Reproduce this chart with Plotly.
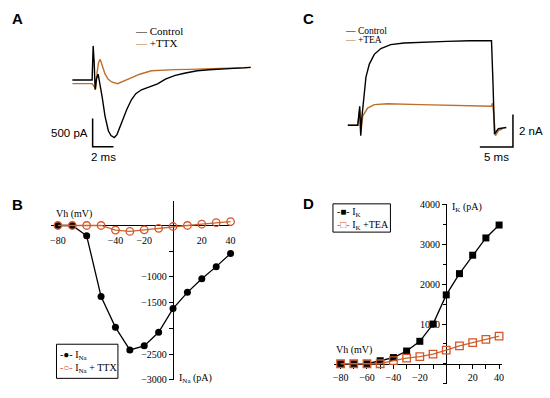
import plotly.graph_objects as go

W, H = 550, 398
SERIF = "Times New Roman, Liberation Serif, serif"
SANS = "Arial, Liberation Sans, sans-serif"
BLACK = "#000000"
ORANGE = "#bd6f28"
RED_OPEN = "#d4552a"
RED_LINE = "#c8672c"

# ---------------- Data ----------------
# Panel A: Na+ current traces (time in ms, current in pA)
a_time_ctrl = [0, 1.90, 2.00, 2.10, 2.19, 2.33, 2.48, 2.67, 2.86, 3.14, 3.46, 3.71, 4.03, 4.29,
               4.57, 4.89, 5.24, 5.69, 6.10, 6.64, 7.43, 8.19, 8.95, 9.81, 10.76, 12.0, 13.14,
               14.29, 15.52, 16.48, 17.14]
a_curr_ctrl = [0, 0, 602, 310, -172, 34, 103, -69, -292, -636, -894, -980, -1015, -963,
               -826, -688, -516, -344, -241, -172, -120, -69, 17, 77, 120, 163, 181,
               198, 206, 215, 224]
a_time_ttx = [0, 1.90, 2.05, 2.24, 2.38, 2.52, 2.67, 2.86, 3.14, 3.43, 3.78, 4.35, 4.95, 5.69,
              6.48, 7.59, 8.86, 9.81, 11.24, 12.67, 14.29, 16.0, 17.14]
a_curr_ttx = [-64, -64, -103, -155, 138, 310, 366, 275, 108, 17, -34, -64, -17, 52,
              103, 163, 181, 184, 189, 198, 198, 206, 224]

# Panel C: K+ current traces (time in ms, current in nA)
c_time_ctrl = [0, 1.50, 1.80, 1.95, 2.10, 2.25, 2.74, 3.25, 4.00, 4.99, 6.48, 8.49, 11.48,
               14.97, 18.41, 21.71, 21.93, 22.16, 22.75, 23.95]
c_curr_ctrl = [0, 0, 1.16, -0.64, 0.38, 0.96, 2.95, 3.75, 4.35, 4.71, 4.95, 5.05, 5.11,
               5.15, 5.19, 5.19, 2.65, -0.54, -0.22, -0.14]
c_time_tea = [0, 1.50, 1.80, 1.95, 2.25, 2.99, 4.00, 5.99, 10.97, 15.97, 21.71, 21.86, 22.0,
              22.31, 22.75, 23.35]
c_curr_tea = [0, 0, 0.98, -0.52, 0.56, 1.05, 1.26, 1.32, 1.26, 1.20, 1.16, 1.35, 0.86,
              -0.64, -0.34, -0.22]

# Panel B: I-V of Na+ current
vh = [-80, -70, -60, -50, -40, -30, -20, -10, 0, 10, 20, 30, 40]
i_na = [0, 0, -200, -1380, -1980, -2420, -2340, -2075, -1615, -1300, -1035, -800, -545]
i_na_ttx = [0, 0, 0, 0, -90, -115, -85, -55, -20, 0, 25, 55, 75]
b_xtick_vals = [-80, -40, -20, 20, 40]
b_ytick_vals = [-3000, -2500, -1500, -1000]

# Panel D: I-V of K+ current
i_k = [0, 0, 0, 75, 155, 320, 565, 1000, 1735, 2270, 2735, 3170, 3495]
i_k_tea = [0, 0, 0, 0, 80, 140, 180, 240, 345, 450, 530, 615, 695]
d_xtick_vals = [-80, -60, -40, -20, 20, 40]
d_ytick_vals = [1000, 2000, 3000, 4000]

# Legend labels
a_names = ["Control", "+TTX"]
c_names = ["Control", "+TEA"]
b_names = ["I<sub>Na</sub>", "I<sub>Na</sub> + TTX"]
d_names = ["I<sub>K</sub>", "I<sub>K</sub> +TEA"]

# Scale bars
a_bar_ms, a_bar_pA = 2, 500
c_bar_ms, c_bar_nA = 5, 2
a_bar_corner = (1.95, -1179)
c_bar_corner = (24.95, -1.34)

# ---------------- Layout helpers ----------------
def xdom(p0, p1):
    return [p0 / W, p1 / W]

def ydom(top, bottom):
    return [1 - bottom / H, 1 - top / H]

def cross(dom, rng, v):
    return dom[0] + (v - rng[0]) / (rng[1] - rng[0]) * (dom[1] - dom[0])

A_xd, A_yd = xdom(60, 260), ydom(30, 165)
A_xr, A_yr = [-1.143, 17.905], [-1496.4, 825.6]
C_xd, C_yd = xdom(340, 530), ydom(25, 165)
C_xr, C_yr = [-1.497, 26.95], [-2.437, 5.946]
B_xd, B_yd = xdom(50, 233), ydom(201.7, 385.5)
B_xr, B_yr = [-85.1, 40.9], [-3000, 483]
D_xd, D_yd = xdom(336, 506), ydom(205, 390)
D_xr, D_yr = [-85.0, 42.5], [-516, 4029]

fig = go.Figure()

# Panel A traces
fig.add_trace(go.Scatter(x=a_time_ttx, y=a_curr_ttx, mode="lines", name=a_names[1],
                         line=dict(color=ORANGE, width=1.4), xaxis="x", yaxis="y",
                         showlegend=False))
fig.add_trace(go.Scatter(x=a_time_ctrl, y=a_curr_ctrl, mode="lines", name=a_names[0],
                         line=dict(color=BLACK, width=1.4), xaxis="x", yaxis="y",
                         showlegend=False))
t0, i0 = a_bar_corner
fig.add_trace(go.Scatter(x=[t0, t0, t0 + a_bar_ms], y=[i0 + a_bar_pA, i0, i0], mode="lines",
                         line=dict(color=BLACK, width=1.5), xaxis="x", yaxis="y",
                         showlegend=False, hoverinfo="skip"))

# Panel C traces
fig.add_trace(go.Scatter(x=c_time_tea, y=c_curr_tea, mode="lines", name=c_names[1],
                         line=dict(color=ORANGE, width=1.4), xaxis="x2", yaxis="y2",
                         showlegend=False))
fig.add_trace(go.Scatter(x=c_time_ctrl, y=c_curr_ctrl, mode="lines", name=c_names[0],
                         line=dict(color=BLACK, width=1.4), xaxis="x2", yaxis="y2",
                         showlegend=False))
u0, j0 = c_bar_corner
fig.add_trace(go.Scatter(x=[u0 - c_bar_ms, u0, u0], y=[j0, j0, j0 + c_bar_nA], mode="lines",
                         line=dict(color=BLACK, width=1.5), xaxis="x2", yaxis="y2",
                         showlegend=False, hoverinfo="skip"))

# Panel B traces
fig.add_trace(go.Scatter(x=vh, y=i_na, mode="lines+markers", name=b_names[0],
                         line=dict(color=BLACK, width=1.3),
                         marker=dict(symbol="circle", size=7, color=BLACK),
                         xaxis="x3", yaxis="y3", showlegend=False, cliponaxis=False))
fig.add_trace(go.Scatter(x=vh, y=i_na_ttx, mode="lines+markers", name=b_names[1],
                         line=dict(color=RED_LINE, width=1.3),
                         marker=dict(symbol="circle-open", size=7.5,
                                     line=dict(color=RED_OPEN, width=1.3), color=RED_OPEN),
                         xaxis="x3", yaxis="y3", showlegend=False, cliponaxis=False))

# Panel D traces
fig.add_trace(go.Scatter(x=vh, y=i_k, mode="lines+markers", name=d_names[0],
                         line=dict(color=BLACK, width=1.3),
                         marker=dict(symbol="square", size=7, color=BLACK),
                         xaxis="x4", yaxis="y4", showlegend=False, cliponaxis=False))
fig.add_trace(go.Scatter(x=vh, y=i_k_tea, mode="lines+markers", name=d_names[1],
                         line=dict(color=RED_LINE, width=1.3),
                         marker=dict(symbol="square-open", size=7.5,
                                     line=dict(color=RED_OPEN, width=1.3), color=RED_OPEN),
                         xaxis="x4", yaxis="y4", showlegend=False, cliponaxis=False))

hidden = dict(visible=False, showgrid=False, zeroline=False)
tickfont = dict(family=SERIF, size=10, color=BLACK)
axline = dict(showline=True, linecolor=BLACK, linewidth=1.3, showgrid=False, zeroline=False,
              tickfont=tickfont, layer="below traces")

fig.update_layout(
    width=W, height=H, autosize=False,
    margin=dict(l=0, r=0, t=0, b=0),
    paper_bgcolor="white", plot_bgcolor="white",
    showlegend=False,
    xaxis=dict(domain=A_xd, range=A_xr, anchor="y", **hidden),
    yaxis=dict(domain=A_yd, range=A_yr, anchor="x", **hidden),
    xaxis2=dict(domain=C_xd, range=C_xr, anchor="y2", **hidden),
    yaxis2=dict(domain=C_yd, range=C_yr, anchor="x2", **hidden),
    xaxis3=dict(domain=B_xd, range=B_xr, anchor="free", position=cross(B_yd, B_yr, 0),
                tickmode="array", tickvals=b_xtick_vals, ticks="", ticklabelstandoff=5,
                **axline),
    yaxis3=dict(domain=B_yd, range=B_yr, anchor="free", position=cross(B_xd, B_xr, 0),
                tickmode="array", tickvals=b_ytick_vals,
                ticks="outside", ticklen=4, tickwidth=1, tickcolor=BLACK,
                minor=dict(tick0=0, dtick=500, ticks="outside", ticklen=4, tickcolor=BLACK),
                **axline),
    xaxis4=dict(domain=D_xd, range=D_xr, anchor="free", position=cross(D_yd, D_yr, 0),
                tickmode="array", tickvals=d_xtick_vals,
                ticks="outside", ticklen=4, tickwidth=1, tickcolor=BLACK,
                minor=dict(tick0=0, dtick=10, ticks="outside", ticklen=4, tickcolor=BLACK),
                **axline),
    yaxis4=dict(domain=D_yd, range=D_yr, anchor="free", position=cross(D_xd, D_xr, 0),
                tickmode="array", tickvals=d_ytick_vals,
                ticks="outside", ticklen=4, tickwidth=1, tickcolor=BLACK,
                minor=dict(tick0=0, dtick=500, ticks="outside", ticklen=3, tickcolor=BLACK),
                **axline),
)

ann = []
shapes = []

def paper_text(text, px, py, size, family, xanchor="left", color=BLACK):
    ann.append(dict(text=text, x=px / W, y=1 - py / H, xref="paper", yref="paper",
                    xanchor=xanchor, yanchor="middle", showarrow=False,
                    font=dict(family=family, size=size, color=color)))

# Panel letters
for letter, px, py in [("A", 16.7, 15), ("B", 16.7, 205.5), ("C", 310, 15), ("D", 310, 205)]:
    paper_text("<b>%s</b>" % letter, px, py, 15, SANS, xanchor="center")

# Legend-like labels for A and C (line samples)
paper_text("<span style='color:%s'>—</span> %s" % (BLACK, a_names[0]), 133, 27.5, 11, SERIF)
paper_text("<span style='color:%s'>—</span> %s" % (ORANGE, a_names[1]), 133, 39.5, 11, SERIF)
paper_text("<span style='color:%s'>—</span> %s" % (BLACK, c_names[0]), 345, 27.5, 9.5, SERIF)
paper_text("<span style='color:%s'>—</span> %s" % (ORANGE, c_names[1]), 345, 37, 9.5, SERIF)

# Boxed legends for B and D
shapes.append(dict(type="rect", xref="paper", yref="paper", x0=56 / W, x1=118 / W,
                   y0=1 - 384 / H, y1=1 - 349 / H, line=dict(color=BLACK, width=1),
                   fillcolor="white", layer="above"))
shapes.append(dict(type="rect", xref="paper", yref="paper", x0=335 / W, x1=393 / W,
                   y0=1 - 234 / H, y1=1 - 205 / H, line=dict(color=BLACK, width=1),
                   fillcolor="white", layer="above"))
paper_text("<span style='color:%s'>-●-</span> %s" % (BLACK, b_names[0]), 58, 361, 10, SERIF)
paper_text("<span style='color:%s'>-○-</span> %s" % (RED_OPEN, b_names[1]), 58, 373.5, 10, SERIF)
paper_text("<span style='color:%s'>-■-</span> %s" % (BLACK, d_names[0]), 337, 213.5, 10, SERIF)
paper_text("<span style='color:%s'>-□-</span> %s" % (RED_OPEN, d_names[1]), 337, 227, 10, SERIF)

# Scale bar labels
ann.append(dict(text="%d pA" % a_bar_pA, x=t0, y=i0 + a_bar_pA / 2, xref="x", yref="y",
                xanchor="right", yanchor="middle", xshift=-3, showarrow=False,
                font=dict(family=SANS, size=11.5, color=BLACK)))
ann.append(dict(text="%d ms" % a_bar_ms, x=t0 + a_bar_ms / 2, y=i0, xref="x", yref="y",
                xanchor="center", yanchor="top", yshift=-2, showarrow=False,
                font=dict(family=SANS, size=11.5, color=BLACK)))
ann.append(dict(text="%d nA" % c_bar_nA, x=u0, y=j0 + c_bar_nA / 2, xref="x2", yref="y2",
                xanchor="left", yanchor="middle", xshift=4, showarrow=False,
                font=dict(family=SANS, size=11.5, color=BLACK)))
ann.append(dict(text="%d ms" % c_bar_ms, x=u0 - c_bar_ms / 2, y=j0, xref="x2", yref="y2",
                xanchor="center", yanchor="top", yshift=-2, showarrow=False,
                font=dict(family=SANS, size=11.5, color=BLACK)))

# Axis titles for B and D
ann.append(dict(text="Vh (mV)", x=-68.5, y=231, xref="x3", yref="y3", xanchor="center",
                yanchor="middle", showarrow=False, font=dict(family=SERIF, size=10, color=BLACK)))
ann.append(dict(text="I<sub>Na</sub> (pA)", x=3, y=-2970, xref="x3", yref="y3", xanchor="left",
                yanchor="middle", showarrow=False, font=dict(family=SERIF, size=10, color=BLACK)))
ann.append(dict(text="Vh (mV)", x=-70, y=344, xref="x4", yref="y4", xanchor="center",
                yanchor="middle", showarrow=False, font=dict(family=SERIF, size=10, color=BLACK)))
ann.append(dict(text="I<sub>K</sub> (pA)", x=2.8, y=3931, xref="x4", yref="y4", xanchor="left",
                yanchor="middle", showarrow=False, font=dict(family=SERIF, size=10, color=BLACK)))

fig.update_layout(annotations=ann, shapes=shapes)
fig.write_html("out.html", config={"displayModeBar": False},
               post_script="document.body.style.margin='0';document.body.style.overflow='hidden';")
